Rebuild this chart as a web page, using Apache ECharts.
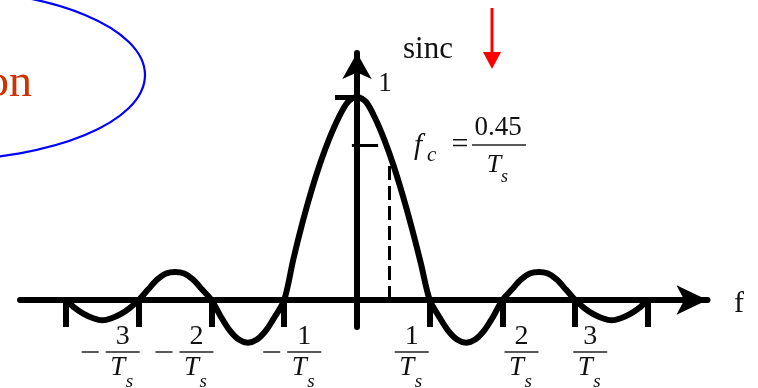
<!DOCTYPE html>
<html>
<head>
<meta charset="utf-8">
<script src="https://cdn.jsdelivr.net/npm/echarts@6/dist/echarts.min.js"></script>
<style>
  html, body { margin: 0; padding: 0; background: #fff; }
  #chart { width: 758px; height: 388px; }
</style>
</head>
<body>
<div id="chart"></div>
<script>
// Frequency samples (in units of 1/Ts) and the sinc amplitude at each one
const freq = [
  -4, -3.875, -3.75, -3.625, -3.5, -3.375, -3.25, -3.125,
  -3, -2.875, -2.75, -2.625, -2.5, -2.375, -2.25, -2.125,
  -2, -1.875, -1.75, -1.625, -1.5, -1.375, -1.25, -1.125,
  -1, -0.875, -0.75, -0.625, -0.5, -0.375, -0.25, -0.125,
  0, 0.125, 0.25, 0.375, 0.5, 0.625, 0.75, 0.875,
  1, 1.125, 1.25, 1.375, 1.5, 1.625, 1.75, 1.875,
  2, 2.125, 2.25, 2.375, 2.5, 2.625, 2.75, 2.875,
  3, 3.125, 3.25, 3.375, 3.5, 3.625, 3.75, 3.875, 4
];
const amplitude = [
  0, -0.04, -0.07, -0.09, -0.1, -0.09, -0.07, -0.04,
  0, 0.05, 0.1, 0.13, 0.138, 0.13, 0.1, 0.05,
  0, -0.08, -0.15, -0.195, -0.21, -0.195, -0.15, -0.08,
  0, 0.2, 0.38, 0.54, 0.68, 0.8, 0.9, 0.975,
  1, 0.975, 0.895, 0.79, 0.665, 0.52, 0.36, 0.185,
  0, -0.08, -0.15, -0.195, -0.21, -0.195, -0.15, -0.08,
  0, 0.05, 0.1, 0.13, 0.138, 0.13, 0.1, 0.05,
  0, -0.04, -0.07, -0.09, -0.1, -0.09, -0.07, -0.04, 0
];

// Axis ticks
const freqTicks = [-4, -3, -2, -1, 1, 2, 3, 4];
const ampTicks = [1];

// Labelled frequency ticks: sign and numerator of k/Ts
const labelTicks = [-3, -2, -1, 1, 2, 3];
const labelSigns = ['\u2212', '\u2212', '\u2212', '', '', ''];
const labelNums = ['3', '2', '1', '1', '2', '3'];

// Cut-off frequency 0.45/Ts and the curve height there
const cutoff = 0.45;
const cutoffLevel = 0.67;
// Short marker on the vertical axis
const markerLevel = 0.76;
const markerSpan = [-0.07, 0.29];

const chart = echarts.init(document.getElementById('chart'), null, { renderer: 'canvas' });
const SERIF = '"Liberation Serif", "DejaVu Serif", serif';

chart.setOption({
  animation: false,
  backgroundColor: '#ffffff',
  grid: { left: 20, right: 50.5, top: 53, bottom: 61, containLabel: false },
  xAxis: {
    type: 'value', min: -4.632, max: 4.818,
    axisLine: { onZero: true, symbol: ['none', 'arrow'], symbolSize: [22, 31],
      lineStyle: { color: '#000', width: 6 } },
    axisTick: { show: true, customValues: freqTicks, length: 27, inside: false,
      lineStyle: { color: '#000', width: 6 } },
    axisLabel: { show: false },
    splitLine: { show: false }
  },
  yAxis: {
    type: 'value', min: -0.133, max: 1.2167,
    axisLine: { onZero: true, symbol: ['none', 'arrow'], symbolSize: [22, 26],
      lineStyle: { color: '#000', width: 6 } },
    axisTick: { show: true, customValues: ampTicks, length: 22, inside: false,
      lineStyle: { color: '#000', width: 5 } },
    axisLabel: { show: false },
    splitLine: { show: false }
  },
  series: [{
    type: 'line',
    data: freq.map((f, i) => [f, amplitude[i]]),
    showSymbol: false,
    smooth: 0.3,
    clip: false,
    lineStyle: { color: '#000', width: 6 },
    z: 5,
    markLine: {
      silent: true,
      symbol: ['none', 'none'],
      label: { show: false },
      data: [
        [{ coord: [cutoff, 0], lineStyle: { type: [14, 6], width: 3, color: '#000' } },
         { coord: [cutoff, cutoffLevel] }],
        [{ coord: [markerSpan[0], markerLevel], lineStyle: { type: 'solid', width: 3, color: '#000' } },
         { coord: [markerSpan[1], markerLevel] }]
      ]
    }
  }]
});

const px = (x, y) => chart.convertToPixel({ gridIndex: 0 }, [x, y]);
const graphics = [];

// Horizontal placement of each fraction bar relative to its tick (px)
const barOffsets = [-33, -32, 3, -35, 2, -2];
const barWidth = 34;
labelTicks.forEach((t, i) => {
  const p = px(t, 0);
  const x0 = p[0] + barOffsets[i];
  const cx = x0 + barWidth / 2;
  const barY = 352;
  graphics.push({ type: 'line', shape: { x1: x0, y1: barY, x2: x0 + barWidth, y2: barY },
    style: { stroke: '#222', lineWidth: 1.5 } });
  if (labelSigns[i]) {
    graphics.push({ type: 'line', shape: { x1: x0 - 24, y1: barY, x2: x0 - 7, y2: barY },
      style: { stroke: '#222', lineWidth: 1.5 } });
  }
  graphics.push({ type: 'text', x: cx, y: 337, style: { text: labelNums[i],
    font: '28px ' + SERIF, fill: '#111', align: 'center', verticalAlign: 'middle' } });
  graphics.push({ type: 'text', x: cx - 5, y: 368, style: { text: 'T',
    font: 'italic 27px ' + SERIF, fill: '#111', align: 'center', verticalAlign: 'middle' } });
  graphics.push({ type: 'text', x: cx + 3, y: 382, style: { text: 's',
    font: 'italic 19px ' + SERIF, fill: '#111', align: 'left', verticalAlign: 'middle' } });
});

// Peak label "1" beside the vertical axis
const peak = px(0, 1);
graphics.push({ type: 'text', x: peak[0] + 28, y: peak[1] - 13, style: { text: '1',
  font: '27px ' + SERIF, fill: '#111', align: 'center', verticalAlign: 'middle' } });

// Axis names
graphics.push({ type: 'text', x: 403, y: 50, style: { text: 'sinc',
  font: '31px ' + SERIF, fill: '#111', align: 'left', verticalAlign: 'middle' } });
graphics.push({ type: 'text', x: 734, y: 304, style: { text: 'f',
  font: '30px ' + SERIF, fill: '#111', align: 'left', verticalAlign: 'middle' } });

// Cut-off annotation  f_c = 0.45 / T_s
graphics.push(
  { type: 'text', x: 414, y: 146, style: { text: 'f', font: 'italic 29px ' + SERIF, fill: '#111', align: 'left', verticalAlign: 'middle' } },
  { type: 'text', x: 427, y: 155, style: { text: 'c', font: 'italic 21px ' + SERIF, fill: '#111', align: 'left', verticalAlign: 'middle' } },
  { type: 'text', x: 460, y: 145, style: { text: '=', font: '30px ' + SERIF, fill: '#111', align: 'center', verticalAlign: 'middle' } },
  { type: 'text', x: 498, y: 128, style: { text: '0.45', font: '27px ' + SERIF, fill: '#111', align: 'center', verticalAlign: 'middle' } },
  { type: 'line', shape: { x1: 472, y1: 145, x2: 526, y2: 145 }, style: { stroke: '#222', lineWidth: 1.5 } },
  { type: 'text', x: 494, y: 165, style: { text: 'T', font: 'italic 26px ' + SERIF, fill: '#111', align: 'center', verticalAlign: 'middle' } },
  { type: 'text', x: 501, y: 177, style: { text: 's', font: 'italic 18px ' + SERIF, fill: '#111', align: 'left', verticalAlign: 'middle' } }
);

// Red pointer arrow
graphics.push(
  { type: 'line', shape: { x1: 492, y1: 8, x2: 492, y2: 54 }, style: { stroke: '#ff0000', lineWidth: 3 } },
  { type: 'polygon', shape: { points: [[483, 52], [501, 52], [492, 69]] }, style: { fill: '#ff0000' } }
);

// Callout ellipse with its caption
graphics.push(
  { type: 'ellipse', shape: { cx: -60, cy: 75, rx: 205, ry: 85 },
    style: { fill: 'none', stroke: '#0000ff', lineWidth: 2.2 } },
  { type: 'text', x: 32, y: 84, style: { text: 'on', font: '46px ' + SERIF, fill: '#cc3300',
    align: 'right', verticalAlign: 'middle' } }
);

chart.setOption({ graphic: graphics });
</script>
</body>
</html>
